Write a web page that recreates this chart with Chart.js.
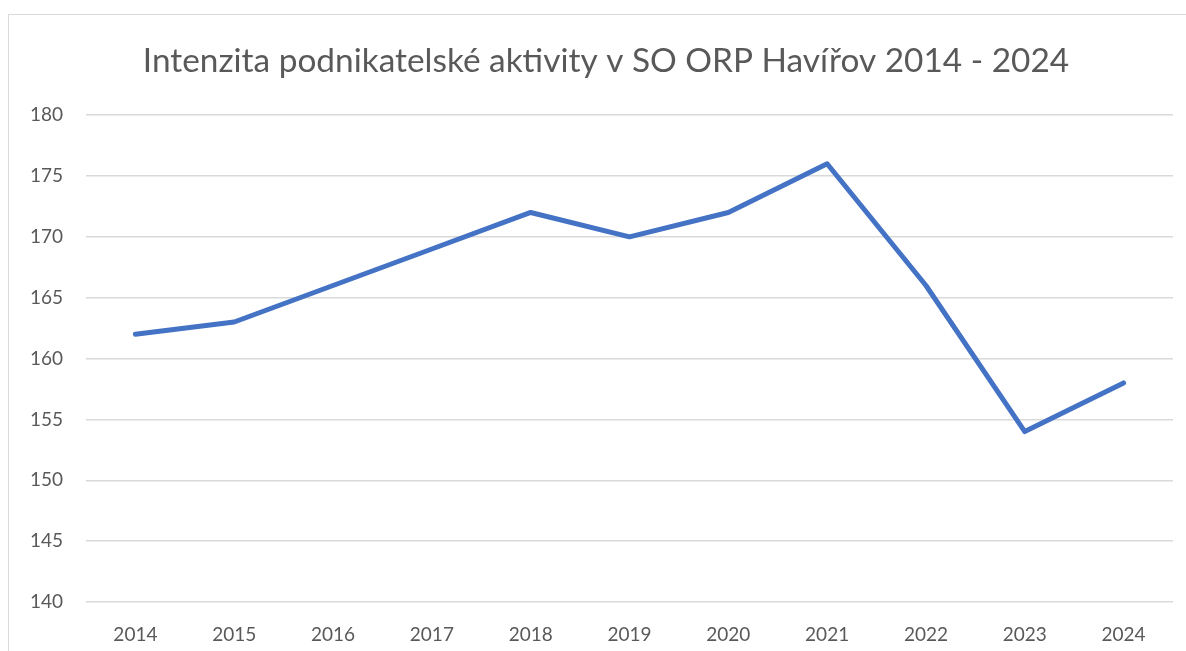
<!DOCTYPE html>
<html>
<head>
<meta charset="utf-8">
<script src="https://cdn.jsdelivr.net/npm/chart.js@4.4.0/dist/chart.umd.min.js"></script>
<style>
    html, body { margin: 0; padding: 0; background: #fff; overflow: hidden; width: 1186px; height: 651px; }
    #ramec { position: absolute; left: 8px; top: 14px; width: 1200px; height: 660px; border-left: 1px solid #d9d9d9; border-top: 1px solid #d9d9d9; }
    #obal { position: absolute; left: 1px; top: 1px; width: 1192px; height: 636px; }
</style>
</head>
<body>
<div id="ramec"><div id="obal"><canvas id="graf"></canvas></div></div>
<script>
// data grafu
const roky = ["2014", "2015", "2016", "2017", "2018", "2019", "2020", "2021", "2022", "2023", "2024"];
const intenzita = [162, 163, 166, 169, 172, 170, 172, 176, 166, 154, 158];
const nadpis = "Intenzita podnikatelské aktivity v SO ORP Havířov 2014 - 2024";

const pismo = "Lato, 'Open Sans', sans-serif";
const sedaText = "#595959";

const ctx = document.getElementById("graf").getContext("2d");
window.mujGraf = new Chart(ctx, {
    type: "line",
    data: {
        labels: roky,
        datasets: [{
            label: "Intenzita",
            data: intenzita,
            borderColor: "#4472c4",
            backgroundColor: "#4472c4",
            borderWidth: 5,
            borderCapStyle: "round",
            borderJoinStyle: "round",
            pointRadius: 0,
            tension: 0,
            fill: false
        }]
    },
    options: {
        responsive: true,
        maintainAspectRatio: false,
        animation: false,
        layout: { padding: 0 },
        plugins: {
            legend: { display: false },
            tooltip: { enabled: false },
            title: {
                display: true,
                text: nadpis,
                color: sedaText,
                font: { family: pismo, size: 33.4, weight: "normal" },
                padding: { top: 25, bottom: 34 }
            }
        },
        scales: {
            x: {
                offset: true,
                grid: { display: false, drawTicks: false },
                border: { display: false },
                ticks: { color: sedaText, font: { family: pismo, size: 19 }, padding: 21, maxRotation: 0 },
                afterFit: scale => { scale.height = 50; }
            },
            y: {
                min: 140,
                max: 180,
                grid: { color: "#d9d9d9", lineWidth: 1.5, drawTicks: false },
                border: { display: false },
                ticks: { stepSize: 5, color: sedaText, font: { family: pismo, size: 19 }, padding: 23 },
                afterFit: scale => { scale.width = 76; }
            },
            // prazdne misto vpravo
            okraj: {
                type: "linear",
                position: "right",
                grid: { display: false, drawTicks: false },
                border: { display: false },
                ticks: { display: false },
                afterFit: scale => { scale.width = 29; }
            }
        }
    }
});
</script>
</body>
</html>
